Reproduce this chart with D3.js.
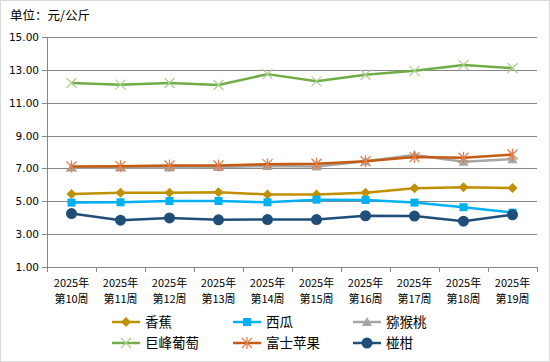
<!DOCTYPE html>
<html>
<head>
<meta charset="utf-8">
<script src="https://cdn.jsdelivr.net/npm/d3@7"></script>
<style>
  body { margin: 0; background: #fff; }
  svg { display: block; }
</style>
</head>
<body>
<div id="chart"></div>
<script>
// chart data
const weeks = ["第10周", "第11周", "第12周", "第13周", "第14周", "第15周", "第16周", "第17周", "第18周", "第19周"];
const yearLabel = "2025年";
const yTicks = [1, 3, 5, 7, 9, 11, 13, 15];

const banana = [5.44, 5.52, 5.52, 5.55, 5.42, 5.42, 5.52, 5.79, 5.85, 5.81];
const watermelon = [4.92, 4.94, 5.02, 5.02, 4.94, 5.10, 5.08, 4.92, 4.64, 4.31];
const kiwi = [7.05, 7.05, 7.05, 7.08, 7.15, 7.12, 7.44, 7.82, 7.40, 7.56];
const grape = [12.2, 12.1, 12.2, 12.08, 12.74, 12.3, 12.7, 12.94, 13.3, 13.1];
const apple = [7.12, 7.14, 7.18, 7.18, 7.26, 7.28, 7.44, 7.69, 7.65, 7.85];
const orange = [4.25, 3.85, 3.99, 3.87, 3.89, 3.89, 4.12, 4.10, 3.79, 4.18];

const series = [
  { name: "香蕉", values: banana, color: "#BF9000", marker: "diamond" },
  { name: "西瓜", values: watermelon, color: "#00B0F0", marker: "square" },
  { name: "猕猴桃", values: kiwi, color: "#A5A5A5", marker: "triangle" },
  { name: "巨峰葡萄", values: grape, color: "#70AD47", marker: "cross" },
  { name: "富士苹果", values: apple, color: "#C55A11", marker: "star" },
  { name: "椪柑", values: orange, color: "#1F4E79", marker: "circle" }
];

const width = 550, height = 362;
const margin = { top: 37, right: 10, bottom: 95, left: 47 };
const font = "'Noto Sans CJK SC', 'Liberation Sans', sans-serif";

const svg = d3.select("#chart").append("svg")
  .attr("width", width)
  .attr("height", height);

// outer border
svg.append("rect")
  .attr("x", 0.5).attr("y", 0.5)
  .attr("width", width - 1).attr("height", height - 1)
  .attr("fill", "#fff")
  .attr("stroke", "#D9D9D9");

svg.append("text")
  .attr("x", 10).attr("y", 20)
  .style("font-family", font)
  .style("font-size", "12.5px")
  .attr("fill", "#000")
  .text("单位：元/公斤");

const x = d3.scaleBand()
  .domain(weeks)
  .range([margin.left, width - margin.right - 3]);

const y = d3.scaleLinear()
  .domain([1, 15])
  .range([height - margin.bottom, margin.top]);

// gridlines
svg.append("g")
  .selectAll("line")
  .data(yTicks)
  .join("line")
  .attr("x1", margin.left - 5)
  .attr("x2", x.range()[1])
  .attr("y1", d => Math.round(y(d)) + 0.5)
  .attr("y2", d => Math.round(y(d)) + 0.5)
  .attr("stroke", "#878787")
  .attr("stroke-width", 1);

// y labels
svg.append("g")
  .selectAll("text")
  .data(yTicks)
  .join("text")
  .attr("x", margin.left - 8)
  .attr("y", d => y(d) + 4)
  .attr("text-anchor", "end")
  .style("font-family", "'DejaVu Sans', sans-serif")
  .style("font-size", "10.5px")
  .attr("fill", "#000")
  .text(d => d.toFixed(2));

// y axis line
svg.append("line")
  .attr("x1", margin.left + 0.5).attr("x2", margin.left + 0.5)
  .attr("y1", y(15)).attr("y2", y(1))
  .attr("stroke", "#878787");

// x axis ticks
const bounds = weeks.map(w => x(w)).concat([x.range()[1]]);
svg.append("g")
  .selectAll("line")
  .data(bounds)
  .join("line")
  .attr("x1", d => Math.round(d) + 0.5)
  .attr("x2", d => Math.round(d) + 0.5)
  .attr("y1", y(1))
  .attr("y2", y(1) + 5)
  .attr("stroke", "#878787");

// x labels, two lines
const xl = svg.append("g")
  .selectAll("text")
  .data(weeks)
  .join("text")
  .attr("text-anchor", "middle")
  .style("font-family", font)
  .style("font-size", "11px")
  .attr("fill", "#000");
xl.append("tspan")
  .attr("x", d => x(d) + x.bandwidth() / 2)
  .attr("y", 287)
  .text(yearLabel);
xl.append("tspan")
  .attr("x", d => x(d) + x.bandwidth() / 2)
  .attr("y", 303)
  .text(d => d);

function drawMarker(g, type, color) {
  if (type === "diamond") {
    g.append("path").attr("d", "M0,-5L5,0L0,5L-5,0Z").attr("fill", color);
  } else if (type === "square") {
    g.append("rect").attr("x", -4).attr("y", -4).attr("width", 8).attr("height", 8).attr("fill", color);
  } else if (type === "triangle") {
    g.append("path").attr("d", "M0,-5L5,4L-5,4Z").attr("fill", color);
  } else if (type === "cross") {
    g.append("path").attr("d", "M-5,-5L5,5M-5,5L5,-5")
      .attr("stroke", "#A9D18E").attr("stroke-width", 1.2).attr("fill", "none");
  } else if (type === "star") {
    g.append("path").attr("d", "M-5,-5L5,5M-5,5L5,-5M0,-6L0,6")
      .attr("stroke", "#E08050").attr("stroke-width", 1.3).attr("fill", "none");
  } else if (type === "circle") {
    g.append("circle").attr("r", 5.5).attr("fill", color);
  }
}

const line = d3.line()
  .x((d, i) => x(weeks[i]) + x.bandwidth() / 2)
  .y(d => y(d));

series.forEach(s => {
  const g = svg.append("g");
  g.append("path")
    .datum(s.values)
    .attr("d", line)
    .attr("fill", "none")
    .attr("stroke", s.color)
    .attr("stroke-width", 2.5)
    .attr("stroke-linejoin", "round");
  s.values.forEach((v, i) => {
    const m = g.append("g")
      .attr("transform", `translate(${x(weeks[i]) + x.bandwidth() / 2},${y(v)})`);
    drawMarker(m, s.marker, s.color);
  });
});

// legend
const legendCols = [112, 233, 353];
const legendRows = [322, 343];
series.forEach((s, i) => {
  const lx = legendCols[i % 3], ly = legendRows[Math.floor(i / 3)];
  const g = svg.append("g").attr("transform", `translate(${lx},${ly})`);
  g.append("line")
    .attr("x1", 0).attr("x2", 28)
    .attr("stroke", s.color).attr("stroke-width", 2.5);
  const m = g.append("g").attr("transform", "translate(14,0)");
  drawMarker(m, s.marker, s.color);
  g.append("text")
    .attr("x", 33).attr("y", 5)
    .style("font-family", font)
    .style("font-size", "13.5px")
    .attr("fill", "#000")
    .text(s.name);
});
</script>
</body>
</html>
